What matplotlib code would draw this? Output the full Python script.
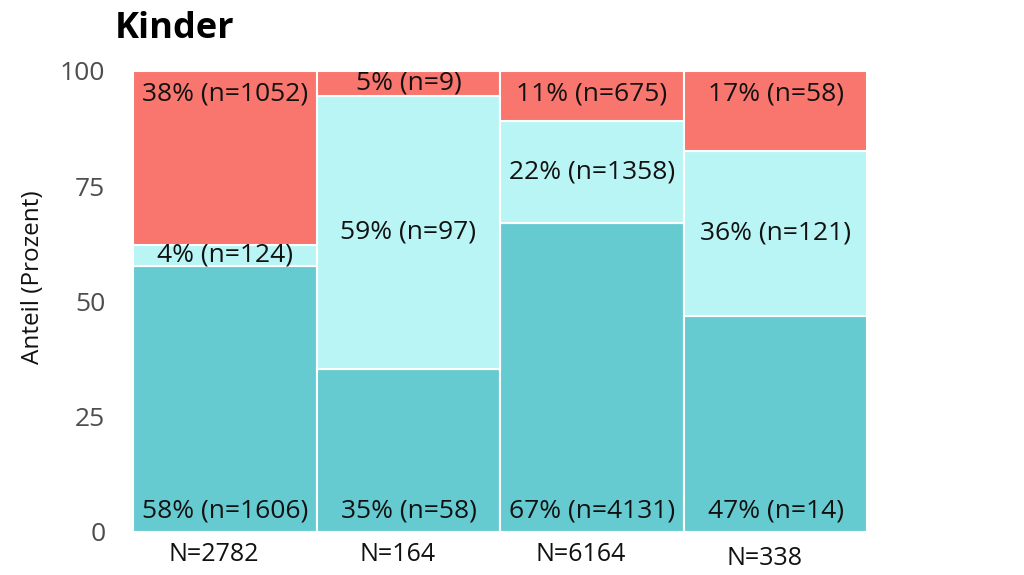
import numpy as np
import matplotlib.pyplot as plt

plt.rcParams['font.family'] = ['Open Sans', 'DejaVu Sans']

# Anteile in Prozent (unten, mitte, oben) je Gruppe
unten = [57.7, 35.4, 67.0, 46.9]
mitte = [4.5, 59.1, 22.0, 35.8]
oben = [37.8, 5.5, 11.0, 17.3]

lab_unten = ['58% (n=1606)', '35% (n=58)', '67% (n=4131)', '47% (n=14)']
lab_mitte = ['4% (n=124)', '59% (n=97)', '22% (n=1358)', '36% (n=121)']
lab_oben = ['38% (n=1052)', '5% (n=9)', '11% (n=675)', '17% (n=58)']
gesamt = ['N=2782', 'N=164', 'N=6164', 'N=338']

c_unten = '#66CBD0'
c_mitte = '#B9F5F5'
c_oben = '#F8766D'

fig = plt.figure(figsize=(10.24, 5.75), dpi=100)
ax = fig.add_axes([0.130, 0.075, 0.717, 0.802])

x = np.arange(len(unten))
u = np.array(unten)
m = np.array(mitte)
o = np.array(oben)

ax.bar(x, u, width=1.0, color=c_unten, edgecolor='white', linewidth=1.5)
ax.bar(x, m, width=1.0, bottom=u, color=c_mitte, edgecolor='white', linewidth=1.5)
ax.bar(x, o, width=1.0, bottom=u + m, color=c_oben, edgecolor='white', linewidth=1.5)

fs = 19
for i in range(len(x)):
    yb = min(u[i] / 2, 4.5)
    ym = u[i] + m[i] / 2
    yt = max(u[i] + m[i] + o[i] / 2, 95)
    ax.text(x[i], yb, lab_unten[i], ha='center', va='center', fontsize=fs, color='#111111')
    ax.text(x[i], ym, lab_mitte[i], ha='center', va='center', fontsize=fs, color='#111111')
    ax.text(x[i], yt, lab_oben[i], ha='center', va='center', fontsize=fs, color='#111111')
    # Gesamtzahl unter dem Balken
    yn = -5.8 if i == len(x) - 1 else -4.9
    ax.text(x[i] - 0.06, yn, gesamt[i], ha='center', va='center', fontsize=18,
            color='#111111', clip_on=False)

ax.set_xlim(-0.5, len(x) - 0.5)
ax.set_ylim(0, 100)
ax.set_xticks([])
ax.set_yticks([0, 25, 50, 75, 100])
ax.tick_params(axis='y', length=0, pad=20, labelsize=19, labelcolor='#4D4D4D')
for s in ax.spines.values():
    s.set_visible(False)

fig.text(0.032, 0.518, 'Anteil (Prozent)', fontsize=17.5, color='#111111',
         rotation=90, ha='center', va='center')
fig.text(0.112, 0.950, 'Kinder', fontsize=26, fontweight='bold', ha='left', va='center')

fig.savefig('out.png', dpi=100)
